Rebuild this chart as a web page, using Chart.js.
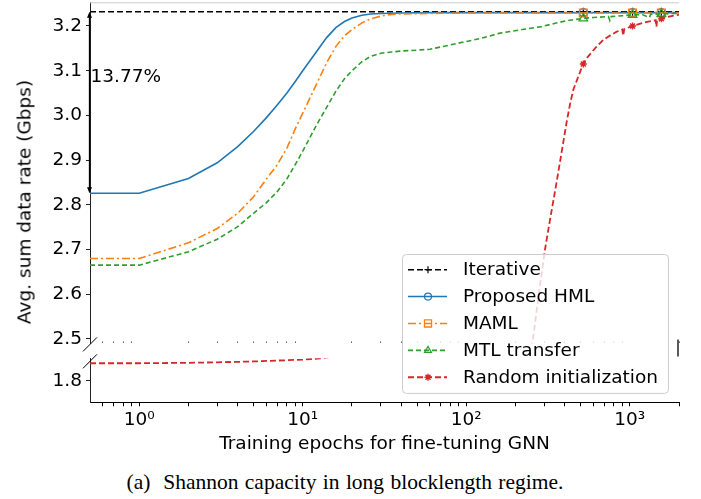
<!DOCTYPE html>
<html>
<head>
<meta charset="utf-8">
<script src="https://cdn.jsdelivr.net/npm/chart.js@4.4.1/dist/chart.umd.min.js"></script>
<style>
    body { margin: 0; background: #fff; }
    #wrap { position: relative; width: 701px; height: 499px; overflow: hidden; font-family: 'DejaVu Sans', sans-serif; }
    #lowerChart { position: absolute; left: 0; top: 345px; }
    #upperChart { position: absolute; left: 0; top: 0; }
    #yTitle { position: absolute; left: 24px; top: 202px; transform: translate(-50%, -50%) rotate(-90deg);
              white-space: nowrap; font-size: 18.5px; color: #000; }
    #caption { position: absolute; left: 0; top: 472px; width: 690px; text-align: center; line-height: 21.5px;
               font-family: 'Liberation Serif', 'Times New Roman', serif; font-size: 21.5px; color: #000; word-spacing: 1px; }
</style>
</head>
<body>
<div id="wrap">
    <canvas id="lowerChart" width="701" height="120"></canvas>
    <canvas id="upperChart" width="701" height="400"></canvas>
    <div id="yTitle">Avg. sum data rate (Gbps)</div>
    <div id="caption">(a)&nbsp; Shannon capacity in long blocklength regime.</div>
</div>
<script>
// Sum-rate vs. fine-tuning epochs, drawn as a broken y-axis (upper + lower panel)

const markerEpochs = [520, 1040, 1560];

const iterativeEpochs = [0, 520, 1040, 1560, 2000];
const iterativeRate = [3.232, 3.232, 3.232, 3.232, 3.232];

const hmlEpochs = [0, 1, 2, 3, 4, 5, 6, 7, 8, 9, 10, 12, 14, 16, 18, 20, 23, 26, 30, 40, 60, 100, 200, 520, 1040, 1560, 2000];
const hmlRate = [2.826, 2.826, 2.859, 2.894, 2.930, 2.964, 2.995, 3.024, 3.050, 3.076, 3.100, 3.140, 3.174, 3.197, 3.210, 3.218, 3.224, 3.227, 3.228, 3.229, 3.230, 3.230, 3.230, 3.230, 3.230, 3.230, 3.230];

const mamlEpochs = [0, 1, 2, 3, 4, 5, 6, 7, 8, 9, 10, 12, 14, 16, 18, 20, 23, 26, 30, 35, 40, 60, 100, 200, 520, 1040, 1560, 2000];
const mamlRate = [2.680, 2.680, 2.715, 2.747, 2.781, 2.818, 2.858, 2.890, 2.927, 2.970, 3.005, 3.066, 3.118, 3.155, 3.178, 3.192, 3.207, 3.216, 3.222, 3.226, 3.227, 3.228, 3.229, 3.229, 3.229, 3.229, 3.229, 3.229];

const mtlEpochs = [0, 1, 2, 3, 4, 5, 6, 7, 8, 9, 10, 12, 14, 16, 18, 20, 23, 26, 30, 35, 40, 50, 60, 88, 122, 161, 220, 282, 350, 411,
                   520, 600, 740, 755, 770, 900, 1040, 1200, 1320, 1340, 1560, 1800, 2000];
const mtlRate = [2.665, 2.665, 2.695, 2.723, 2.751, 2.781, 2.805, 2.830, 2.858, 2.890, 2.920, 2.975, 3.018, 3.055, 3.082, 3.100, 3.120, 3.132, 3.139, 3.142, 3.144, 3.146, 3.148, 3.161, 3.172, 3.184, 3.192, 3.198, 3.206, 3.212,
                 3.217, 3.219, 3.221, 3.212, 3.221, 3.223, 3.225, 3.225, 3.219, 3.226, 3.227, 3.228, 3.228];

const randomEpochs = [0, 1, 2, 3, 5, 7, 10, 13, 20, 40, 70, 100, 150, 200, 240, 256, 280, 303, 330, 349, 380, 411, 431, 452, 500, 520, 545,
                      620, 688, 760, 829, 900, 912, 925, 1040, 1200, 1300, 1440, 1455, 1470, 1560, 1700, 1850, 2000];
const randomRate = [1.839, 1.839, 1.840, 1.841, 1.843, 1.845, 1.847, 1.850, 1.86, 1.90, 1.97, 2.05, 2.20, 2.33, 2.45, 2.50, 2.61, 2.70, 2.78, 2.83, 2.91, 2.985, 3.025, 3.058, 3.10, 3.115, 3.128,
                    3.152, 3.169, 3.179, 3.187, 3.192, 3.178, 3.193, 3.200, 3.207, 3.210, 3.213, 3.198, 3.214, 3.216, 3.220, 3.223, 3.225];

// axis ticks
const xTicks = [0.6, 0.7, 0.8, 0.9, 1, 2, 3, 4, 5, 6, 7, 8, 9, 10, 20, 30, 40, 50, 60, 70, 80, 90,
                100, 200, 300, 400, 500, 600, 700, 800, 900, 1000, 2000];
const xMajor = [1, 10, 100, 1000];
const xMajorLabels = ['10\u2070', '10\u00b9', '10\u00b2', '10\u00b3'];
const upperTicks = [2.5, 2.6, 2.7, 2.8, 2.9, 3.0, 3.1, 3.2];
const lowerTicks = [1.8];

const gapLabel = '13.77%';
const gapLabelAt = 3.086;

Chart.defaults.font.family = "'DejaVu Sans', sans-serif";
Chart.defaults.font.size = 18.5;
Chart.defaults.color = '#000';

function points(epochs, rates) {
    return epochs.map((e, i) => ({ x: e, y: rates[i] }));
}

function markerRadius(r) {
    return ctx => (ctx.raw && markerEpochs.includes(ctx.raw.x)) ? r : 0;
}

function makeDatasets() {
    return [
        {
            label: 'Iterative', data: points(iterativeEpochs, iterativeRate), order: 5,
            borderColor: '#000000', borderWidth: 1.5, borderDash: [6, 3],
            pointStyle: 'cross', pointRadius: markerRadius(4), legendRadius: 3.5,
            pointBorderColor: '#000000', pointBackgroundColor: 'rgba(0,0,0,0)', pointBorderWidth: 1.2
        },
        {
            label: 'Proposed HML', data: points(hmlEpochs, hmlRate), order: 4,
            borderColor: '#1f77b4', borderWidth: 1.6,
            pointStyle: 'circle', pointRadius: markerRadius(4), legendRadius: 3.5,
            pointBorderColor: '#1f77b4', pointBackgroundColor: 'rgba(0,0,0,0)', pointBorderWidth: 1.2
        },
        {
            label: 'MAML', data: points(mamlEpochs, mamlRate), order: 3,
            borderColor: '#ff7f0e', borderWidth: 1.6, borderDash: [8, 3, 2, 3],
            pointStyle: 'rect', pointRadius: markerRadius(5.5), legendRadius: 5,
            pointBorderColor: '#ff7f0e', pointBackgroundColor: 'rgba(0,0,0,0)', pointBorderWidth: 1.3
        },
        {
            label: 'MTL transfer', data: points(mtlEpochs, mtlRate), order: 2,
            borderColor: '#2ca02c', borderWidth: 1.6, borderDash: [5, 3],
            pointStyle: 'triangle', pointRadius: markerRadius(5), legendRadius: 4,
            pointBorderColor: '#2ca02c', pointBackgroundColor: 'rgba(0,0,0,0)', pointBorderWidth: 1.2
        },
        {
            label: 'Random initialization', data: points(randomEpochs, randomRate), order: 1,
            borderColor: '#d62728', borderWidth: 1.8, borderDash: [6, 3],
            pointStyle: 'star', pointRadius: markerRadius(3.5), legendRadius: 3.5,
            pointBorderColor: '#d62728', pointBackgroundColor: '#d62728', pointBorderWidth: 1.4
        }
    ];
}

function xScale(showLabels, height) {
    return {
        type: 'logarithmic', min: 0.5, max: 2000,
        afterBuildTicks: s => { s.ticks = xTicks.map(v => ({ value: v, major: xMajor.includes(v) })); },
        afterFit: s => { s.height = height; s.paddingLeft = 0; s.paddingRight = 0; },
        border: { display: showLabels, color: '#000', width: 1 },
        grid: {
            drawOnChartArea: false, drawTicks: true,
            tickLength: showLabels ? 4 : -2,
            color: ctx => showLabels ? '#000' : (ctx.tick && ctx.tick.major ? 'rgba(0,0,0,0)' : '#666')
        },
        ticks: {
            display: showLabels, autoSkip: false, maxRotation: 0, padding: 3,
            callback: v => { const k = xMajor.indexOf(v); return k >= 0 ? xMajorLabels[k] : ''; }
        },
        title: {
            display: showLabels, text: 'Training epochs for fine-tuning GNN',
            padding: { top: 0, bottom: 10 }
        }
    };
}

function yScale(min, max, ticks) {
    return {
        min: min, max: max,
        afterBuildTicks: s => { s.ticks = ticks.map(v => ({ value: v })); },
        afterFit: s => { s.width = 90; s.paddingTop = 0; s.paddingBottom = 0; },
        border: { display: true, color: '#222', width: 1 },
        grid: { drawOnChartArea: false, drawTicks: true, tickLength: 4, color: '#222' },
        ticks: { padding: 4, callback: v => v.toFixed(1) }
    };
}

// slash marks where the y axis is cut, plus the light frame on top of the upper panel
const axisBreak = {
    id: 'axisBreak',
    afterDraw(chart, args, opts) {
        const { ctx, chartArea } = chart;
        const y = opts.edge === 'bottom' ? chartArea.bottom + 1 : chartArea.top + 3;
        ctx.save();
        ctx.strokeStyle = '#000';
        ctx.lineWidth = 1;
        ctx.beginPath();
        ctx.moveTo(chartArea.left - 7, y + 7);
        ctx.lineTo(chartArea.left + 7, y - 7);
        ctx.stroke();
        if (opts.edge === 'bottom') {
            ctx.lineWidth = 1.3;
            ctx.beginPath();
            ctx.moveTo(chartArea.right - 1, chartArea.bottom - 4);
            ctx.lineTo(chartArea.right - 1, chartArea.bottom + 13);
            ctx.stroke();
            ctx.strokeStyle = '#cccccc';
            ctx.lineWidth = 1;
            ctx.beginPath();
            ctx.moveTo(chartArea.left, chartArea.top + 0.5);
            ctx.lineTo(chartArea.right, chartArea.top + 0.5);
            ctx.stroke();
        }
        ctx.restore();
    }
};

// double arrow between the HML start and the iterative benchmark
const gapArrow = {
    id: 'gapArrow',
    afterDatasetsDraw(chart) {
        const { ctx, chartArea, scales } = chart;
        const px = chartArea.left - 0.5;
        const yTop = scales.y.getPixelForValue(iterativeRate[0]);
        const yBot = scales.y.getPixelForValue(hmlRate[0]);
        ctx.save();
        ctx.strokeStyle = '#000';
        ctx.fillStyle = '#000';
        ctx.lineWidth = 1.3;
        ctx.beginPath();
        ctx.moveTo(px, yTop + 3);
        ctx.lineTo(px, yBot - 3);
        ctx.stroke();
        ctx.beginPath();
        ctx.moveTo(px, yTop); ctx.lineTo(px - 2.5, yTop + 6); ctx.lineTo(px + 2.5, yTop + 6); ctx.closePath();
        ctx.moveTo(px, yBot); ctx.lineTo(px - 2.5, yBot - 6); ctx.lineTo(px + 2.5, yBot - 6); ctx.closePath();
        ctx.fill();
        ctx.font = "18.5px 'DejaVu Sans', sans-serif";
        ctx.textBaseline = 'middle';
        ctx.fillText(gapLabel, px + 1, scales.y.getPixelForValue(gapLabelAt));
        ctx.restore();
    }
};

// framed legend with line samples and markers
const boxLegend = {
    id: 'boxLegend',
    afterDraw(chart, args, opts) {
        const { ctx, chartArea } = chart;
        const sets = chart.data.datasets;
        const h = opts.rowHeight * sets.length + opts.padY * 2;
        const x0 = chartArea.right - opts.right - opts.width;
        const y0 = opts.top;
        ctx.save();
        ctx.beginPath();
        ctx.roundRect(x0 + 0.5, y0 + 0.5, opts.width, h, 4);
        ctx.fillStyle = 'rgba(255,255,255,0.8)';
        ctx.fill();
        ctx.strokeStyle = '#cccccc';
        ctx.lineWidth = 1;
        ctx.stroke();
        ctx.font = "18.5px 'DejaVu Sans', sans-serif";
        ctx.textBaseline = 'middle';
        sets.forEach((ds, i) => {
            const cy = y0 + opts.padY + opts.rowHeight * (i + 0.5);
            ctx.setLineDash(ds.borderDash || []);
            ctx.strokeStyle = ds.borderColor;
            ctx.lineWidth = ds.borderWidth;
            ctx.beginPath();
            ctx.moveTo(x0 + 6, cy);
            ctx.lineTo(x0 + 45, cy);
            ctx.stroke();
            ctx.setLineDash([]);
            ctx.fillStyle = ds.pointBackgroundColor;
            ctx.lineWidth = ds.pointBorderWidth;
            Chart.helpers.drawPoint(ctx, { pointStyle: ds.pointStyle, radius: ds.legendRadius, borderWidth: ds.pointBorderWidth, rotation: 0 }, x0 + 26, cy);
            ctx.fillStyle = '#000';
            ctx.fillText(ds.label, x0 + 61, cy + 1);
        });
        ctx.restore();
    }
};

new Chart(document.getElementById('lowerChart'), {
    type: 'line',
    data: { datasets: makeDatasets() },
    options: {
        responsive: false, animation: false, events: [],
        layout: { padding: { top: 13.3, right: 22, left: 0, bottom: 0 } },
        plugins: { legend: { display: false }, tooltip: { enabled: false }, axisBreak: { edge: 'top' } },
        scales: { x: xScale(true, 62.7), y: yScale(1.752, 1.85, lowerTicks) }
    },
    plugins: [axisBreak]
});

new Chart(document.getElementById('upperChart'), {
    type: 'line',
    data: { datasets: makeDatasets() },
    options: {
        responsive: false, animation: false, events: [],
        layout: { padding: { top: 2.3, right: 22, left: 0, bottom: 0 } },
        plugins: {
            legend: { display: false }, tooltip: { enabled: false },
            axisBreak: { edge: 'bottom' },
            boxLegend: { right: 11, top: 254, width: 266, rowHeight: 26.9, padY: 2.2 }
        },
        scales: { x: xScale(false, 56.6), y: yScale(2.49, 3.253, upperTicks) }
    },
    plugins: [axisBreak, gapArrow, boxLegend]
});
</script>
</body>
</html>
